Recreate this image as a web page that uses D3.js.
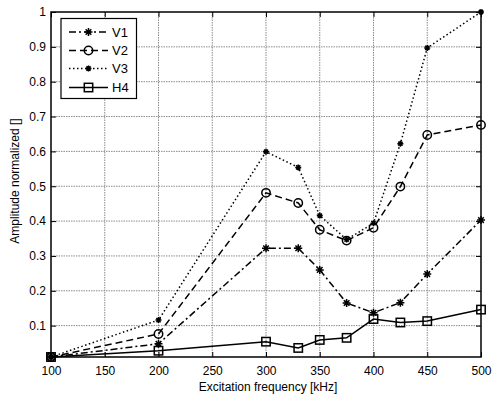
<!DOCTYPE html>
<html><head><meta charset="utf-8">
<script src="https://cdn.jsdelivr.net/npm/d3@7"></script>
<style>body{margin:0;background:#fff}svg{display:block}text{font-family:"Liberation Sans",Arial,sans-serif;fill:#000}</style>
</head><body><svg id="c" width="494" height="399"></svg>
<script>
const freq = [100, 200, 300, 330, 350, 375, 400, 425, 450, 500];
const V1 = [0.01, 0.048, 0.322, 0.322, 0.26, 0.165, 0.137, 0.166, 0.248, 0.403];
const V2 = [0.01, 0.076, 0.481, 0.452, 0.375, 0.344, 0.381, 0.499, 0.647, 0.676];
const V3 = [0.01, 0.116, 0.599, 0.554, 0.416, 0.347, 0.394, 0.622, 0.897, 1.0];
const H4 = [0.01, 0.028, 0.054, 0.036, 0.059, 0.065, 0.119, 0.109, 0.113, 0.146];
const xTicks = [100, 150, 200, 250, 300, 350, 400, 450, 500];
const yTicks = [0.1, 0.2, 0.3, 0.4, 0.5, 0.6, 0.7, 0.8, 0.9, 1];
const seriesNames = ["V1", "V2", "V3", "H4"];

const series = [
  {name: "V1", vals: V1, dash: "7,3,2,3", marker: "star", ms: 4},
  {name: "V2", vals: V2, dash: "7,4", marker: "circle", ms: 4.2},
  {name: "V3", vals: V3, dash: "1.5,2.5", marker: "star", ms: 3},
  {name: "H4", vals: H4, dash: null, marker: "square", ms: 4.2}
];

const L = 51, R = 481, T = 12, B = 357;
const x = d3.scaleLinear().domain([100, 500]).range([L, R]);
const y = d3.scaleLinear().domain([0.01, 1]).range([B, T]);
const svg = d3.select("#c");

// grid
const g = svg.append("g");
g.selectAll(".gx").data(xTicks.slice(1, -1)).join("line")
  .attr("x1", d => x(d)).attr("x2", d => x(d)).attr("y1", T).attr("y2", B)
  .attr("stroke", "#8c8c8c").attr("stroke-width", 1).attr("stroke-dasharray", "1.5,1");
g.selectAll(".gy").data(yTicks.slice(0, -1)).join("line")
  .attr("y1", d => y(d)).attr("y2", d => y(d)).attr("x1", L).attr("x2", R)
  .attr("stroke", "#8c8c8c").attr("stroke-width", 1).attr("stroke-dasharray", "1.5,1");

// axes
const xa = svg.append("g").attr("transform", `translate(0,${B})`)
  .call(d3.axisBottom(x).tickValues(xTicks).tickSizeInner(-5).tickSizeOuter(0).tickPadding(9.5).tickFormat(d3.format("d")));
const ya = svg.append("g").attr("transform", `translate(${L},0)`)
  .call(d3.axisLeft(y).tickValues(yTicks).tickSizeInner(-5).tickSizeOuter(0).tickPadding(5).tickFormat(d => d === 1 ? "1" : d3.format(".1f")(d)));
const xt = svg.append("g").attr("transform", `translate(0,${T})`)
  .call(d3.axisTop(x).tickValues(xTicks).tickSizeInner(-5).tickSizeOuter(0).tickFormat(""));
const yr = svg.append("g").attr("transform", `translate(${R},0)`)
  .call(d3.axisRight(y).tickValues(yTicks).tickSizeInner(-5).tickSizeOuter(0).tickFormat(""));
[xa, ya, xt, yr].forEach(a => { a.select(".domain").remove(); a.selectAll("text").style("font-size", "12px").attr("font-family", "Liberation Sans, Arial"); a.selectAll("line").attr("stroke", "#000"); });

svg.append("rect").attr("x", L).attr("y", T).attr("width", R - L).attr("height", B - T)
  .attr("fill", "none").attr("stroke", "#000").attr("stroke-width", 1.5);

// lines
const line = d3.line().x((d, i) => x(freq[i])).y(d => y(d));
function marker(sel, type, cx, cy, ms) {
  if (type === "circle") {
    sel.append("circle").attr("cx", cx).attr("cy", cy).attr("r", ms).attr("fill", "none").attr("stroke", "#000").attr("stroke-width", 1.5);
  } else if (type === "square") {
    sel.append("rect").attr("x", cx - ms).attr("y", cy - ms).attr("width", 2 * ms).attr("height", 2 * ms).attr("fill", "none").attr("stroke", "#000").attr("stroke-width", 1.5);
  } else {
    const p = `M${cx - ms},${cy}L${cx + ms},${cy}M${cx},${cy - ms}L${cx},${cy + ms}` +
      `M${cx - ms * 0.7},${cy - ms * 0.7}L${cx + ms * 0.7},${cy + ms * 0.7}M${cx - ms * 0.7},${cy + ms * 0.7}L${cx + ms * 0.7},${cy - ms * 0.7}`;
    sel.append("path").attr("d", p).attr("stroke", "#000").attr("stroke-width", 1.5).attr("fill", "none");
  }
}
series.forEach(s => {
  const gs = svg.append("g");
  gs.append("path").datum(s.vals).attr("d", line).attr("fill", "none").attr("stroke", "#000")
    .attr("stroke-width", 1.5).attr("stroke-dasharray", s.dash);
  s.vals.forEach((v, i) => marker(gs, s.marker, x(freq[i]), y(v), s.ms));
});

// labels
svg.append("text").attr("x", 268).attr("y", 391).attr("text-anchor", "middle").style("font-size", "12px").text("Excitation frequency [kHz]");
svg.append("text").attr("transform", `translate(19,181) rotate(-90)`).attr("text-anchor", "middle").style("font-size", "12px").text("Amplitude normalized []");

// legend
const lg = svg.append("g");
lg.append("rect").attr("x", 61).attr("y", 18.5).attr("width", 75.5).attr("height", 80).attr("fill", "#fff").attr("stroke", "#000").attr("stroke-width", 1.2);
const ly = [32, 50.5, 68.5, 87.5];
series.forEach((s, i) => {
  lg.append("line").attr("x1", 69).attr("x2", 108).attr("y1", ly[i]).attr("y2", ly[i]).attr("stroke", "#000").attr("stroke-width", 1.5).attr("stroke-dasharray", s.dash);
  marker(lg, s.marker, 88.5, ly[i], s.ms);
  lg.append("text").attr("x", 112).attr("y", ly[i] + 4.5).style("font-size", "13px").text(seriesNames[i]);
});
</script></body></html>
